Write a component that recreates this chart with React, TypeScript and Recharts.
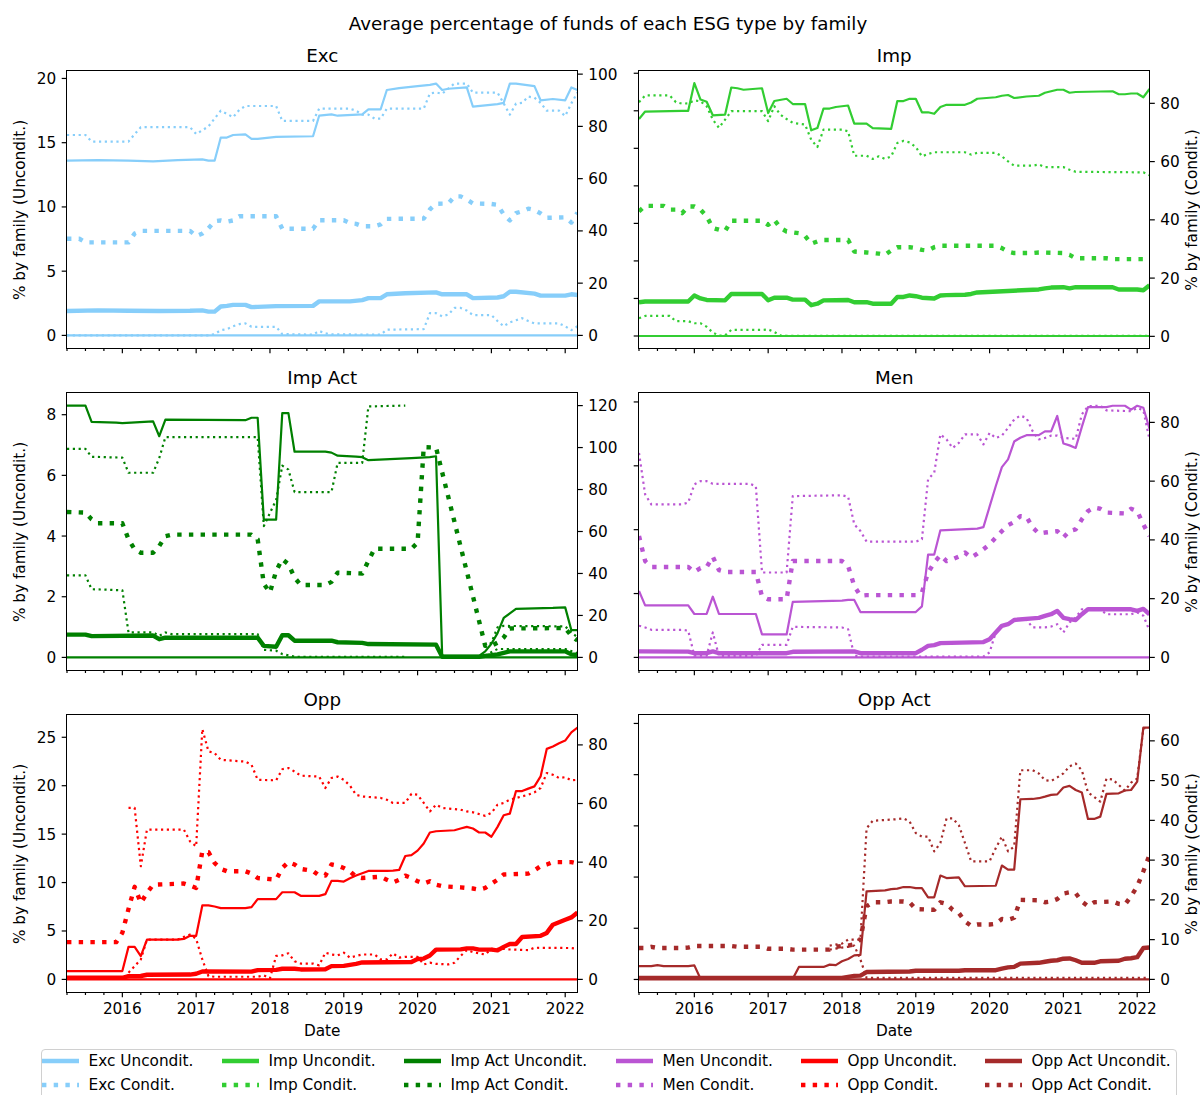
import React from 'react';
import { LineChart, Line, XAxis, YAxis } from 'recharts';

type Pt = [number, number | null];

// x = months since Apr 2015 (0) .. Mar 2022 (83)
const quarterTicks = [0, 3, 6, 9, 12, 15, 18, 21, 24, 27, 30, 33, 36, 39, 42, 45, 48, 51, 54, 57, 60, 63, 66, 69, 72, 75, 78, 81];
const yearTicks = [9, 21, 33, 45, 57, 69, 81];
const yearLabels = ['2016', '2017', '2018', '2019', '2020', '2021', '2022'];
const zeroLine: Pt[] = [[0, 0], [83, 0]];

// ---- Exc ----
const excUTop: Pt[] = [[0,13.6],[5,13.65],[10,13.6],[14,13.55],[18,13.65],[22,13.7],[23,13.6],[24,13.6],[25,15.4],[26,15.4],[27,15.6],[29,15.65],[30,15.3],[31,15.3],[34,15.45],[40,15.5],[41,17.1],[43,17.2],[44,17.1],[48,17.2],[49,17.6],[51,17.6],[52,19.1],[54,19.25],[57,19.4],[59,19.5],[60,19.6],[61,19.1],[62,19.2],[65,19.3],[66,17.8],[70,18.0],[71,18.1],[72,19.6],[73,19.6],[76,19.4],[77,18.3],[79,18.4],[81,18.3],[82,19.3],[83,19.1]];
const excUMean: Pt[] = [[0,1.9],[5,1.95],[10,1.92],[15,1.9],[20,1.92],[22,1.95],[23,1.85],[24,1.85],[25,2.25],[26,2.3],[27,2.38],[29,2.38],[30,2.2],[31,2.22],[34,2.28],[40,2.3],[41,2.65],[46,2.65],[48,2.75],[49,2.9],[51,2.9],[52,3.2],[55,3.28],[60,3.35],[61,3.2],[65,3.2],[66,2.9],[70,2.95],[71,3.05],[72,3.4],[73,3.4],[76,3.25],[77,3.1],[81,3.1],[82,3.2],[83,3.15]];
const excCTop: Pt[] = [[0,76.7],[3,76.7],[4,74.2],[10,74.2],[11,77],[12,79.7],[20,79.7],[21,77.1],[22,78.5],[23,80],[24,83],[25,86],[26,84.8],[27,83.5],[28,86.3],[29,87.8],[34,87.8],[35,82.1],[40,82.1],[41,86.8],[46,86.8],[47,86],[48,84.5],[49,84.5],[50,83],[51,83],[52,86.8],[58,86.8],[59,92.6],[60,93],[61,92.5],[62,94.5],[63,96.4],[65,96.4],[66,92.9],[70,92.9],[71,88.8],[72,84.5],[73,88.7],[74,89],[75,91.4],[76,91],[77,89],[78,86],[80,86],[81,84],[82,88.8],[83,93]];
const excCMean: Pt[] = [[0,37],[2,37],[3,35.6],[10,35.6],[11,39],[12,40],[20,40],[21,38],[22,39],[23,41],[24,43.7],[25,44],[26,43.5],[27,44],[28,45.6],[34,45.6],[35,40.8],[40,40.8],[41,44.1],[45,44.1],[46,43],[47,42.7],[48,41.8],[50,41.8],[51,42.5],[52,44.6],[58,44.7],[59,48.2],[60,50.4],[62,50.5],[63,53.2],[64,53.2],[65,52],[66,50.5],[69,50.3],[70,50],[71,46.3],[72,44],[73,46.8],[74,47.5],[75,48.5],[76,48],[77,46.7],[78,45],[81,45.2],[82,43.2],[83,47]];
const excCMin: Pt[] = [[0,0],[23,0],[24,0.5],[25,2],[26,2.4],[27,3.5],[28,4.3],[29,4.6],[30,3.3],[34,3.3],[35,0.5],[40,0.3],[41,1.7],[42,0.8],[43,0.4],[51,0.3],[52,2.2],[58,2.4],[59,8.5],[60,8.5],[61,7.3],[62,8],[63,10.5],[64,10.5],[65,9.5],[66,7.8],[69,7.8],[70,5.5],[71,3.5],[72,5],[73,5.8],[74,6.6],[75,5.5],[76,4.6],[80,4.6],[81,3.5],[82,2],[83,3.5]];

// ---- Imp ----
const impUTop: Pt[] = [[0,28.9],[1,29.9],[7,30],[8,30],[9,33.7],[10,31.5],[11,31.2],[12,29.4],[14,29.5],[15,33.1],[16,33],[17,32.8],[20,33],[21,29.7],[22,31.3],[24,31.6],[25,30.9],[27,30.9],[28,27.4],[29,27.7],[30,30.3],[31,30.3],[32,30.5],[34,30.7],[35,28.3],[37,28.3],[38,27.7],[41,27.6],[42,31.3],[43,31.3],[44,31.6],[45,31.6],[46,29.8],[47,29.8],[48,29.6],[49,30.5],[50,30.8],[53,30.8],[54,31.1],[55,31.6],[58,31.8],[59,32],[60,32.1],[61,31.7],[63,31.9],[65,32],[66,32.4],[67,32.6],[68,32.8],[69,32.8],[70,32.4],[71,32.5],[77,32.6],[78,32.2],[79,32.2],[80,32.3],[81,32.3],[82,31.8],[83,32.9]];
const impUMean: Pt[] = [[0,4.5],[1,4.6],[8,4.6],[9,5.4],[10,5],[11,4.8],[14,4.75],[15,5.6],[20,5.6],[21,4.75],[22,5.1],[24,5.1],[25,4.85],[27,4.85],[28,4.1],[29,4.3],[30,4.75],[34,4.8],[35,4.5],[37,4.5],[38,4.3],[41,4.3],[42,5.2],[43,5.2],[44,5.4],[45,5.3],[46,5.1],[48,5],[49,5.4],[50,5.45],[53,5.5],[54,5.6],[55,5.8],[60,6],[65,6.2],[66,6.35],[67,6.45],[69,6.5],[70,6.35],[71,6.5],[77,6.5],[78,6.2],[81,6.2],[82,6.1],[83,6.75]];
const impCTop: Pt[] = [[0,80.4],[1,82.7],[5,82.7],[6,80.4],[7,79.9],[8,80],[9,81],[10,80.7],[11,79],[12,74.4],[13,71.6],[14,74.4],[15,77.3],[20,77.3],[21,73.9],[22,79],[23,76.1],[24,74.6],[25,73.3],[27,72.7],[28,67.5],[29,65],[30,71],[33,71],[34,70.4],[35,62],[37,62],[38,60.9],[39,61.8],[40,60.9],[41,61.8],[42,66.4],[43,67.1],[44,66.6],[45,65],[46,61.8],[47,62.6],[48,63.2],[53,63.2],[54,62.4],[55,63],[58,63],[59,61.8],[60,60.1],[61,58.6],[64,58.6],[65,59],[66,58.1],[69,58.1],[70,57.2],[71,56.5],[82,56.3],[83,55.3]];
const impCMean: Pt[] = [[0,42.9],[1,44.8],[4,44.8],[5,43.5],[6,43.5],[7,42.3],[8,44.6],[9,44.6],[10,43.5],[11,41.2],[12,37.2],[13,36.6],[14,36.2],[15,39.7],[20,39.7],[21,38.3],[22,40],[23,37.2],[24,36],[26,35.4],[27,34.5],[28,31.8],[29,32.6],[30,33.1],[34,33.1],[35,29.1],[37,28.8],[38,28.6],[39,28.4],[40,28],[41,29.5],[42,30.6],[44,30.6],[45,30.3],[46,29.7],[47,29.5],[48,30.6],[49,31.1],[58,31.1],[59,30.3],[60,29.1],[61,28.6],[64,28.6],[65,28.8],[69,28.6],[70,28],[71,26.8],[76,26.8],[77,26.5],[83,26.5]];
const impCMin: Pt[] = [[0,6.2],[1,7],[5,7],[6,5.2],[8,5.2],[9,4.5],[10,4.5],[11,3.3],[12,1.3],[13,0.3],[14,0.3],[15,2.2],[20,2.2],[21,2.4],[22,1.5],[23,0.3],[24,0.2],[83,0.2]];

// ---- Imp Act ----
const iaUTop: Pt[] = [[0,8.3],[3,8.3],[4,7.76],[8,7.74],[9,7.72],[14,7.78],[15,7.29],[16,7.84],[29,7.82],[30,7.9],[31,7.9],[32,4.54],[34,4.54],[35,8.05],[36,8.05],[37,6.78],[42,6.78],[43,6.75],[44,6.65],[47,6.62],[48,6.6],[49,6.5],[56,6.57],[59,6.6],[60,6.63],[61,0.05],[67,0.05],[68,0.2],[69,0.45],[70,0.8],[71,1.3],[72,1.45],[73,1.6],[79,1.63],[81,1.65],[82,0.9],[83,0.9]];
const iaUMean: Pt[] = [[0,0.75],[3,0.75],[4,0.7],[14,0.72],[15,0.6],[16,0.65],[31,0.65],[32,0.38],[34,0.35],[35,0.73],[36,0.73],[37,0.55],[43,0.55],[44,0.5],[48,0.48],[49,0.44],[60,0.42],[61,0.02],[67,0.02],[68,0.05],[69,0.07],[70,0.1],[71,0.15],[72,0.2],[81,0.2],[82,0.1],[83,0.08]];
const iaCTop: Pt[] = [[0,99.4],[3,99.4],[4,95.6],[9,95.2],[10,88],[14,88],[15,95],[16,105],[31,105],[32,62.6],[33,68.9],[34,75],[35,91.4],[36,89.5],[37,78.8],[43,78.8],[44,92.7],[48,92.7],[49,119.6],[55,120],[56,null],[68,4.75],[69,7],[70,14.3],[71,15],[81,14.8],[82,12],[83,9.5]];
const iaCMean: Pt[] = [[0,69.3],[3,69],[4,65.8],[5,63.9],[9,63.9],[10,56.3],[11,51.5],[12,49.9],[14,49.9],[15,53.1],[16,57.8],[17,58.5],[30,58.5],[31,56.3],[32,35],[33,30.9],[34,41.2],[35,46.8],[36,44.4],[37,38],[38,34.5],[42,34.5],[43,36],[44,40.4],[48,40],[49,46],[50,51.8],[56,51.8],[57,54.7],[58,100.2],[60,100],[68,5.5],[69,5.5],[70,7],[71,9.5],[72,13.8],[81,14],[82,10.3],[83,8]];
const iaCMin: Pt[] = [[0,39.1],[3,39.1],[4,32.5],[9,32],[10,11.9],[14,11.9],[15,10.3],[16,11.9],[17,11.1],[31,11.1],[32,3.6],[34,3.2],[35,1.6],[36,1],[37,0.3],[55,0.3],[56,null],[68,0.8],[69,2.5],[70,4],[81,4],[82,3],[83,2]];

// ---- Men ----
const menUTop: Pt[] = [[0,5.2],[1,4.07],[8,4.07],[9,3.4],[11,3.4],[12,4.75],[13,3.4],[19,3.4],[20,1.8],[24,1.8],[25,4.35],[33,4.45],[34,4.5],[35,4.5],[36,3.55],[45,3.55],[46,4.0],[47,8.05],[48,8.05],[49,9.95],[55,10.08],[56,10.2],[57,11.8],[58,13.4],[59,14.9],[60,15.5],[61,16.9],[62,17.2],[63,17.4],[65,17.4],[66,17.7],[67,17.7],[68,18.9],[69,16.75],[70,16.6],[71,16.4],[72,18.05],[73,19.6],[76,19.6],[77,19.7],[79,19.7],[80,19.4],[81,19.7],[82,19.55],[83,17.9]];
const menUMean: Pt[] = [[0,0.47],[8,0.45],[9,0.33],[11,0.33],[12,0.47],[13,0.33],[24,0.33],[25,0.44],[35,0.47],[36,0.33],[45,0.33],[46,0.6],[47,0.9],[48,0.96],[49,1.12],[56,1.2],[57,1.43],[58,1.95],[59,2.47],[60,2.6],[61,2.93],[65,3.1],[66,3.25],[67,3.38],[68,3.64],[69,3.1],[70,3.0],[71,2.93],[72,3.38],[73,3.77],[80,3.77],[81,3.64],[82,3.8],[83,3.38]];
const menCTop: Pt[] = [[0,69.6],[1,55.5],[2,52.1],[7,52.1],[8,52.7],[9,58.9],[10,60],[11,60],[12,59.1],[18,59.1],[19,58.3],[20,28.9],[24,28.9],[25,54.9],[33,55.2],[34,54.7],[35,45.3],[36,43],[37,39.4],[45,39.4],[46,40.2],[47,60.6],[48,62.9],[49,75.9],[50,74.2],[51,71.3],[52,73],[53,75.9],[55,75.9],[56,72.5],[57,76.4],[58,74.7],[59,75.5],[60,78.1],[61,81],[62,82.3],[63,81.5],[64,77],[65,74.2],[66,74.7],[67,75.5],[68,75.5],[69,74.7],[71,74.4],[72,82.7],[73,85.5],[75,85.7],[76,84.1],[80,83.8],[81,84.9],[82,84.1],[83,74.2]];
const menCMean: Pt[] = [[0,41.3],[1,32.8],[2,30.8],[8,30.8],[9,29.1],[10,30.4],[11,30.8],[12,34.3],[13,29.7],[14,29.1],[19,29.1],[20,20.7],[21,19.8],[24,19.8],[25,32.8],[33,32.8],[34,31.1],[35,24.3],[36,21],[37,21.2],[45,21.2],[46,22.1],[47,28.9],[48,32.3],[49,34.8],[50,32.8],[51,33.4],[52,34.3],[53,35.7],[54,34],[55,35.3],[56,36.8],[57,38.5],[58,40.8],[59,43],[60,45],[61,46.1],[62,48.1],[63,47.9],[64,44.2],[65,42.2],[66,42.5],[68,43],[69,40.8],[70,43],[71,43.6],[72,47],[73,49.8],[74,51],[75,50.6],[76,49.3],[79,49],[80,50.6],[81,49.8],[82,45.3],[83,41.3]];
const menCMin: Pt[] = [[0,10.8],[1,10.2],[2,9.4],[7,9.4],[8,9.1],[9,0.6],[11,0.6],[12,8.5],[13,0.5],[19,0.5],[20,4.3],[24,4.3],[25,10.4],[33,10.2],[34,9.6],[35,0.6],[36,0.3],[56,0.3],[57,1.7],[58,8.5],[59,11],[60,11.3],[61,13],[62,13],[63,12.8],[64,10.2],[66,10.2],[67,10.5],[68,11.3],[69,8.5],[70,11.9],[71,13.6],[72,16.4],[75,16.4],[76,14.7],[80,14.7],[81,15.3],[82,14.2],[83,9.1]];

// ---- Opp ----
const oppUTop: Pt[] = [[0,0.86],[9,0.86],[10,3.36],[11,3.36],[12,2.4],[13,4.1],[18,4.1],[19,4.18],[20,4.5],[21,4.5],[22,7.64],[23,7.64],[24,7.53],[25,7.36],[29,7.36],[30,7.46],[31,8.29],[34,8.29],[35,9],[37,9],[38,8.63],[41,8.63],[42,8.8],[43,10.17],[44,10.17],[45,10.1],[46,10.44],[47,10.72],[48,10.96],[49,11.2],[52,11.2],[53,11.23],[54,11.3],[55,12.74],[56,12.84],[57,13.3],[58,14.04],[59,15.17],[60,15.3],[63,15.4],[64,15.58],[65,15.75],[66,15.58],[67,15.17],[68,15.17],[69,14.73],[70,15.75],[71,16.95],[72,17.12],[73,19.45],[74,19.45],[75,19.7],[76,19.93],[77,20.96],[78,23.8],[79,24.04],[80,24.38],[81,24.66],[82,25.5],[83,26]];
const oppUMean: Pt[] = [[0,0.17],[9,0.17],[10,0.34],[12,0.35],[13,0.48],[20,0.5],[21,0.58],[22,0.82],[30,0.8],[31,0.96],[34,0.98],[35,1.1],[37,1.1],[38,1.03],[42,1.05],[43,1.37],[45,1.4],[46,1.5],[47,1.6],[48,1.75],[56,1.8],[57,2.1],[58,2.15],[59,2.47],[60,3.08],[64,3.1],[65,3.2],[66,3.2],[67,3.08],[69,3.08],[70,3.0],[71,3.36],[72,3.66],[73,3.66],[74,4.38],[77,4.5],[78,4.8],[79,5.65],[80,5.9],[81,6.16],[82,6.4],[83,6.9]];
const oppCTop: Pt[] = [[10,58.5],[11,58.5],[12,38.6],[13,51.1],[19,51.1],[20,47.1],[21,45.4],[22,85.4],[23,77.8],[24,77.2],[25,74.9],[29,74.3],[30,73.2],[31,68.1],[34,67.9],[35,71.7],[36,72.1],[37,70.9],[38,69.5],[41,69.2],[42,65.3],[43,68.7],[44,69.2],[45,68.1],[46,66.1],[47,63],[48,62.4],[51,61.9],[52,61.3],[53,60.2],[55,60.2],[56,63.3],[57,63],[58,60.2],[59,57.3],[60,59.6],[61,58.5],[64,57.9],[65,57.3],[66,57],[68,55.8],[69,56.8],[70,59.6],[71,60.2],[72,61.3],[75,63],[76,63.8],[77,65.3],[78,70.4],[79,69.8],[80,68.7],[81,69],[82,67.9],[83,68.1]];
const oppCMean: Pt[] = [[0,12.7],[8,12.7],[9,15.9],[10,24],[11,31.6],[12,26.1],[13,29.5],[14,32.3],[19,32.7],[20,32],[21,31.2],[22,43.7],[23,43.4],[24,39.7],[25,37.7],[26,36.9],[29,36.9],[30,36.1],[31,34.6],[34,34],[35,38],[36,40],[37,39.2],[38,37.7],[40,37],[41,35.4],[42,35.4],[43,39.2],[44,38.8],[45,38],[46,36.9],[47,35],[48,34.6],[51,35],[52,34],[53,33.1],[54,34],[55,35.4],[56,34.6],[57,33.5],[58,32.7],[59,33.5],[60,32.3],[61,31.8],[64,31.4],[65,31.2],[66,31],[67,30.6],[68,31.2],[69,32.6],[70,34],[71,35.8],[75,36.1],[76,37.2],[77,38.6],[78,39.2],[79,40],[82,40],[83,39.5]];
const oppCMin: Pt[] = [[10,2.3],[11,4.5],[12,6.8],[13,13.6],[18,13.6],[19,14.5],[20,15.3],[21,13.8],[22,6.8],[23,1.1],[24,0.9],[31,0.9],[32,1.4],[33,0.4],[34,8],[35,8.2],[36,8.9],[37,6.2],[38,5.4],[40,5.4],[41,4.8],[42,9.1],[43,8.5],[44,8.2],[45,9.1],[46,7.4],[47,8],[48,8.5],[50,8.5],[51,6.8],[52,6.8],[53,8.9],[54,7.4],[55,7.7],[57,7.7],[58,5.1],[59,5.7],[60,5.3],[62,5.1],[63,5.7],[64,8],[65,10],[66,9.3],[67,8.9],[68,8.5],[69,10.4],[71,10.4],[72,10.2],[75,10],[76,10.8],[82,10.7],[83,10.4]];

// ---- Opp Act ----
const oaUTop: Pt[] = [[0,0.52],[2,0.52],[3,0.56],[4,0.52],[8,0.52],[9,0.55],[10,0.03],[25,0.03],[26,0.49],[30,0.49],[31,0.58],[32,0.56],[33,0.71],[34,0.8],[35,0.94],[36,0.96],[37,3.44],[40,3.48],[41,3.53],[42,3.55],[43,3.61],[44,3.61],[45,3.57],[46,3.57],[47,3.21],[48,3.21],[49,4.06],[50,3.96],[52,3.99],[53,3.64],[58,3.66],[59,4.45],[60,4.29],[61,4.29],[62,7.04],[64,7.05],[65,7.08],[66,7.14],[67,7.21],[68,7.23],[69,7.5],[70,7.56],[71,7.4],[72,7.3],[73,6.27],[74,6.27],[75,6.36],[76,7.25],[78,7.27],[79,7.38],[80,7.4],[81,7.73],[82,9.84],[83,9.84]];
const oaUMean: Pt[] = [[0,0.06],[33,0.06],[34,0.1],[35,0.14],[36,0.15],[37,0.29],[44,0.31],[45,0.34],[52,0.34],[53,0.36],[58,0.36],[59,0.42],[60,0.47],[61,0.49],[62,0.62],[65,0.65],[66,0.69],[67,0.73],[68,0.75],[69,0.81],[70,0.82],[71,0.75],[72,0.65],[74,0.65],[75,0.71],[78,0.73],[79,0.81],[80,0.83],[81,0.87],[82,1.23],[83,1.25]];
const oaCTop: Pt[] = [[31,8.5],[33,9],[34,10],[36,10],[37,38],[38,39.9],[42,40.3],[43,40.5],[44,39.7],[45,36.8],[46,35.9],[47,35.9],[48,32.2],[49,34.3],[50,40.5],[51,40.5],[52,38.8],[53,34.3],[54,29.7],[57,29.7],[58,33],[59,35.9],[60,32.2],[61,33.4],[62,52.6],[64,52.6],[65,51.8],[66,50.1],[67,49.9],[68,50.8],[69,51.8],[70,53.6],[71,54.3],[72,52.6],[73,47],[74,45.9],[75,44.7],[76,50.5],[77,50.3],[78,48.9],[79,47.5],[80,49.5],[81,50.5],[82,63.1],[83,63.3]];
const oaCMean: Pt[] = [[0,7.9],[1,7.9],[2,8.2],[3,7.9],[7,7.9],[8,8],[9,8.4],[15,8.4],[16,8.2],[20,8.2],[21,7.7],[24,7.7],[25,7.5],[31,7.5],[32,8.2],[33,8.4],[34,8.5],[35,8.8],[36,10],[37,18.4],[38,19.4],[40,19.4],[41,19.6],[43,19.6],[44,19.4],[45,17.7],[48,17.5],[49,19.4],[50,19],[51,17.5],[52,16.7],[53,14.6],[54,13.5],[55,13.8],[57,13.8],[58,14],[59,15.2],[60,15],[61,15.5],[62,20],[65,19.9],[66,19.4],[67,19.6],[68,20.2],[69,21.6],[70,21.9],[71,21.7],[72,19.6],[73,18.4],[74,19.4],[77,19.6],[78,19],[79,18.8],[80,20.9],[81,23.4],[82,27.2],[83,31.3]];
const oaCMin: Pt[] = [[31,7.5],[33,8],[34,8.2],[35,8.5],[36,5],[37,0.4],[83,0.4]];

const families = ['Exc', 'Imp', 'Imp Act', 'Men', 'Opp', 'Opp Act'];
const colors = ['#87CEFA', '#32CD32', '#008000', '#BA55D3', '#FF0000', '#A52A2A'];

const panels = [
  { lDomain: [-0.98, 20.58], lTicks: [0, 5, 10, 15, 20], rDomain: [-4.82, 101.2], rTicks: [0, 20, 40, 60, 80, 100], s: [excUTop, excUMean, excCTop, excCMean, excCMin] },
  { lDomain: [-1.6, 35.3], lTicks: [0, 5, 10, 15, 20, 25, 30, 35], rDomain: [-4.0, 91.1], rTicks: [0, 20, 40, 60, 80], s: [impUTop, impUMean, impCTop, impCMean, impCMin] },
  { lDomain: [-0.415, 8.715], lTicks: [0, 2, 4, 6, 8], rDomain: [-6, 126], rTicks: [0, 20, 40, 60, 80, 100, 120], s: [iaUTop, iaUMean, iaCTop, iaCMean, iaCMin] },
  { lDomain: [-0.985, 20.7], lTicks: [0, 5, 10, 15, 20], rDomain: [-4.28, 90], rTicks: [0, 20, 40, 60, 80], s: [menUTop, menUMean, menCTop, menCMean, menCMin] },
  { lDomain: [-1.3, 27.3], lTicks: [0, 5, 10, 15, 20, 25], rDomain: [-4.3, 90.2], rTicks: [0, 20, 40, 60, 80], s: [oppUTop, oppUMean, oppCTop, oppCMean, oppCMin] },
  { lDomain: [-0.49, 10.33], lTicks: [0, 2, 4, 6, 8, 10], rDomain: [-3.17, 66.5], rTicks: [0, 10, 20, 30, 40, 50, 60], s: [oaUTop, oaUMean, oaCTop, oaCMean, oaCMin] },
];

const rows = (a: Pt[]) => a.map(([m, v]) => ({ m, v }));

const COLX = [67, 639];
const ROWY = [71, 393, 715];
const PW = 510.5;
const PH = 277;
const AX = 50;
const XH = 30;
const MT = 12;
const FONT = '"DejaVu Sans", sans-serif';
const THIN = 2.2;
const THICK = 4.4;

const XTick = (props: any) => {
  const { x, y, payload, showLabel } = props;
  const i = yearTicks.indexOf(payload.value);
  const major = i >= 0;
  return (
    <g>
      <line x1={x} x2={x} y1={y} y2={y + (major ? 5.3 : 3)} stroke="#000" strokeWidth={1.2} />
      {major && showLabel && (
        <text x={x} y={y + 10.7} dy="0.76em" textAnchor="middle" fontSize={15.3} fontFamily={FONT} fill="#000">
          {yearLabels[i]}
        </text>
      )}
    </g>
  );
};

const YTick = (props: any) => {
  const { x, y, payload, side, showLabel } = props;
  const d = side === 'left' ? -1 : 1;
  return (
    <g>
      <line x1={x} x2={x + d * 5.3} y1={y} y2={y} stroke="#000" strokeWidth={1.2} />
      {showLabel && (
        <text x={x + d * 10.7} y={y} dy="0.36em" textAnchor={d < 0 ? 'end' : 'start'} fontSize={15.3} fontFamily={FONT} fill="#000">
          {payload.value}
        </text>
      )}
    </g>
  );
};

const Panel = ({ idx }: { idx: number }) => {
  const p = panels[idx];
  const col = idx % 2;
  const row = Math.floor(idx / 2);
  const c = colors[idx];
  const px = COLX[col];
  const py = ROWY[row];
  const [uTop, uMean, cTop, cMean, cMin] = p.s;
  const common = { type: 'linear' as const, dataKey: 'v', dot: false, activeDot: false, isAnimationActive: false, stroke: c, strokeLinejoin: 'round' as const };
  return (
    <>
      <div style={{ position: 'absolute', left: px - AX, top: py - MT }}>
        <LineChart width={PW + 2 * AX} height={PH + XH + MT} margin={{ top: MT, right: 0, bottom: 0, left: 0 }}>
          <XAxis dataKey="m" type="number" domain={[0, 83]} allowDataOverflow ticks={quarterTicks} interval={0}
            tickSize={0} tickMargin={0} axisLine={false} height={XH} tick={<XTick showLabel={row === 2} />} />
          <YAxis yAxisId="l" orientation="left" type="number" width={AX} domain={p.lDomain} allowDataOverflow ticks={p.lTicks}
            interval={0} tickSize={0} tickMargin={0} axisLine={false} tick={<YTick side="left" showLabel={col === 0} />} />
          <YAxis yAxisId="r" orientation="right" type="number" width={AX} domain={p.rDomain} allowDataOverflow ticks={p.rTicks}
            interval={0} tickSize={0} tickMargin={0} axisLine={false} tick={<YTick side="right" showLabel />} />
          <Line {...common} yAxisId="l" data={rows(uTop)} strokeWidth={THIN} />
          <Line {...common} yAxisId="l" data={rows(zeroLine)} strokeWidth={THIN} />
          <Line {...common} yAxisId="l" data={rows(uMean)} strokeWidth={THICK} />
          <Line {...common} yAxisId="r" data={rows(cTop)} strokeWidth={THIN} strokeDasharray="2.2 3.6" />
          <Line {...common} yAxisId="r" data={rows(cMin)} strokeWidth={THIN} strokeDasharray="2.2 3.6" />
          <Line {...common} yAxisId="r" data={rows(cMean)} strokeWidth={THICK} strokeDasharray="4.4 7.3" />
        </LineChart>
      </div>
      <div style={{ position: 'absolute', left: px - 0.6, top: py - 0.6, width: PW + 1.2, height: PH + 1.2, border: '1.2px solid #000', boxSizing: 'border-box', pointerEvents: 'none' }} />
      <div style={{ position: 'absolute', left: px + PW / 2, top: py - 16, transform: 'translate(-50%, -50%)', fontSize: 18.3, whiteSpace: 'nowrap' }}>
        {families[idx]}
      </div>
      {row === 2 && (
        <div style={{ position: 'absolute', left: px + PW / 2, top: 1031, transform: 'translate(-50%, -50%)', fontSize: 15.3 }}>Date</div>
      )}
      {col === 0 ? (
        <div style={{ position: 'absolute', left: 20, top: py + PH / 2, transform: 'translate(-50%, -50%) rotate(-90deg)', fontSize: 15.3, whiteSpace: 'nowrap' }}>
          % by family (Uncondit.)
        </div>
      ) : (
        <div style={{ position: 'absolute', left: 1192, top: py + PH / 2, transform: 'translate(-50%, -50%) rotate(-90deg)', fontSize: 15.3, whiteSpace: 'nowrap' }}>
          % by family (Condit.)
        </div>
      )}
    </>
  );
};

const legendX = [42, 222, 404, 616, 801, 985];

const App = () => {
  return (
    <div style={{ position: 'relative', width: 1200, height: 1095, overflow: 'hidden', background: '#fff', fontFamily: FONT, color: '#000' }}>
      <style>{'body{margin:0}'}</style>
      <div style={{ position: 'absolute', left: 608, top: 23, transform: 'translate(-50%, -50%)', fontSize: 18.3, whiteSpace: 'nowrap' }}>
        Average percentage of funds of each ESG type by family
      </div>
      {panels.map((_, i) => <Panel key={i} idx={i} />)}
      <div style={{ position: 'absolute', left: 40.5, top: 1049, width: 1136.5, height: 60, border: '1px solid #d0d0d0', borderRadius: 4, boxSizing: 'border-box', background: '#fff' }} />
      {families.map((f, i) => (
        <React.Fragment key={f}>
          {[0, 1].map((r) => (
            <React.Fragment key={r}>
              <svg style={{ position: 'absolute', left: legendX[i], top: (r === 0 ? 1061 : 1085) - 5 }} width={37} height={10}>
                <line x1={0} x2={37} y1={5} y2={5} stroke={colors[i]} strokeWidth={THICK} strokeDasharray={r === 0 ? undefined : '4.4 7.3'} />
              </svg>
              <div style={{ position: 'absolute', left: legendX[i] + 46.5, top: r === 0 ? 1061 : 1085, transform: 'translateY(-50%)', fontSize: 15.3, whiteSpace: 'nowrap' }}>
                {f} {r === 0 ? 'Uncondit.' : 'Condit.'}
              </div>
            </React.Fragment>
          ))}
        </React.Fragment>
      ))}
    </div>
  );
};

export default App;
